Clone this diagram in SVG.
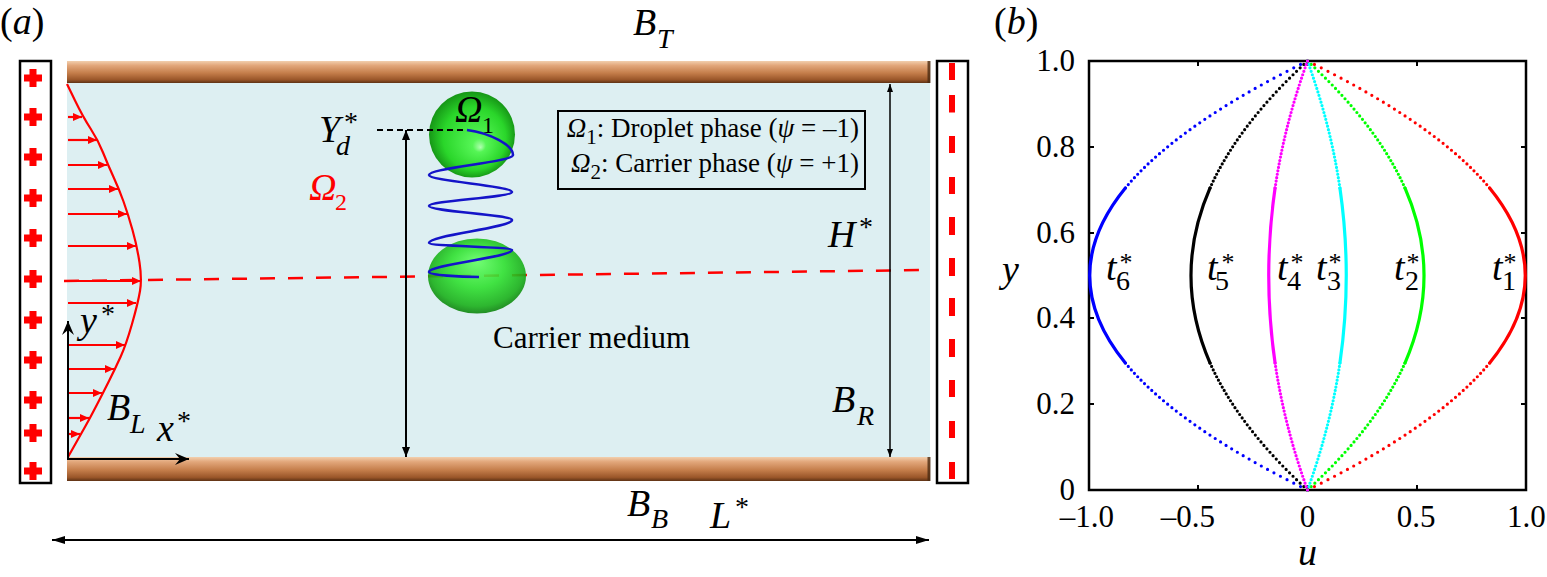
<svg xmlns="http://www.w3.org/2000/svg" width="1547" height="577" viewBox="0 0 1547 577" font-family="Liberation Serif, Times New Roman, serif">
<defs>
<style>
.it{font-style:italic;font-size:38px}
.sub{font-style:italic;font-size:28px}
.star{font-size:28px}
.tstar{font-size:26px}
.tick{font-size:31px}
.leg{font-size:27px}
.red{fill:#f00}
</style>
<linearGradient id="wall" x1="0" y1="0" x2="0" y2="1">
<stop offset="0" stop-color="#f2cfae"/>
<stop offset="0.2" stop-color="#e2a77b"/>
<stop offset="0.55" stop-color="#c47d4a"/>
<stop offset="0.85" stop-color="#9a5629"/>
<stop offset="1" stop-color="#5e3215"/>
</linearGradient>
<radialGradient id="gU" cx="0.5" cy="0.5" r="0.52" fx="0.6" fy="0.65">
<stop offset="0" stop-color="#b0ffb0"/>
<stop offset="0.15" stop-color="#55f555"/>
<stop offset="0.7" stop-color="#2ad62a"/>
<stop offset="1" stop-color="#148f14"/>
</radialGradient>
<radialGradient id="gL" cx="0.5" cy="0.45" r="0.56" fx="0.5" fy="0.3">
<stop offset="0" stop-color="#66ff66"/>
<stop offset="0.5" stop-color="#2fe02f"/>
<stop offset="0.85" stop-color="#1ab01a"/>
<stop offset="1" stop-color="#0d7f0d"/>
</radialGradient>
<marker id="ar" markerWidth="10" markerHeight="9" refX="9" refY="4.5" orient="auto" markerUnits="userSpaceOnUse"><path d="M0,0.5L9,4.5L0,8.5Z" fill="#f00"/></marker>
<marker id="ak" markerWidth="11" markerHeight="9" refX="10" refY="4.5" orient="auto-start-reverse" markerUnits="userSpaceOnUse"><path d="M0,0.5L10,4.5L0,8.5Z"/></marker>
<marker id="ah" markerWidth="9" markerHeight="7" refX="8" refY="3.5" orient="auto-start-reverse" markerUnits="userSpaceOnUse"><path d="M0,0.5L8,3.5L0,6.5Z"/></marker>
<marker id="al" markerWidth="14" markerHeight="9" refX="13" refY="4.5" orient="auto-start-reverse" markerUnits="userSpaceOnUse"><path d="M0,0.5L13,4.5L0,8.5Z"/></marker>
<marker id="as" markerWidth="15" markerHeight="13" refX="14" refY="6.5" orient="auto" markerUnits="userSpaceOnUse"><path d="M0,0.5L14,6.5L0,12.5L5,6.5Z"/></marker>
<path id="plus" d="M-9,-3.5h5.5v-5.5h7v5.5h5.5v7h-5.5v5.5h-7v-5.5h-5.5z" fill="#f00"/>
<path id="c1" d="M0,61h0M6.94,64.43h0M13.76,67.86h0M20.47,71.3h0M27.07,74.73h0M33.56,78.16h0M39.94,81.59h0M46.2,85.02h0M52.36,88.46h0M58.4,91.89h0M64.33,95.32h0M70.14,98.75h0M75.85,102.18h0M81.44,105.62h0M86.92,109.05h0M92.29,112.48h0M97.55,115.91h0M102.7,119.34h0M107.73,122.78h0M112.65,126.21h0M117.47,129.64h0M122.16,133.07h0M126.75,136.5h0M131.23,139.94h0M135.59,143.37h0M139.84,146.8h0M143.98,150.23h0M148.01,153.66h0M151.92,157.1h0M155.73,160.53h0M159.42,163.96h0M163,167.39h0M166.47,170.82h0M169.82,174.26h0M173.07,177.69h0M176.2,181.12h0M179.22,184.55h0M182.13,187.98h0"/>
<path id="c2" d="M0,61h0M3.71,64.43h0M7.36,67.86h0M10.95,71.3h0M14.48,74.73h0M17.95,78.16h0M21.37,81.59h0M24.72,85.02h0M28.01,88.46h0M31.24,91.89h0M34.42,95.32h0M37.52,98.75h0M40.58,102.18h0M43.57,105.62h0M46.5,109.05h0M49.38,112.48h0M52.19,115.91h0M54.94,119.34h0M57.64,122.78h0M60.27,126.21h0M62.85,129.64h0M65.36,133.07h0M67.81,136.5h0M70.21,139.94h0M72.54,143.37h0M74.81,146.8h0M77.03,150.23h0M79.19,153.66h0M81.28,157.1h0M83.31,160.53h0M85.29,163.96h0M87.21,167.39h0M89.06,170.82h0M90.85,174.26h0M92.59,177.69h0M94.27,181.12h0M95.88,184.55h0M97.44,187.98h0"/>
<path id="c3" d="M0,61h0M1.24,64.43h0M2.45,67.86h0M3.64,71.3h0M4.82,74.73h0M5.97,78.16h0M7.11,81.59h0M8.22,85.02h0M9.32,88.46h0M10.4,91.89h0M11.45,95.32h0M12.48,98.75h0M13.5,102.18h0M14.5,105.62h0M15.47,109.05h0M16.43,112.48h0M17.36,115.91h0M18.28,119.34h0M19.18,122.78h0M20.05,126.21h0M20.91,129.64h0M21.74,133.07h0M22.56,136.5h0M23.36,139.94h0M24.14,143.37h0M24.89,146.8h0M25.63,150.23h0M26.35,153.66h0M27.04,157.1h0M27.72,160.53h0M28.38,163.96h0M29.01,167.39h0M29.63,170.82h0M30.23,174.26h0M30.81,177.69h0M31.36,181.12h0M31.9,184.55h0M32.42,187.98h0"/>
<path id="a1" d="M182.13,187.98Q253.46,275.5 182.13,363.02"/>
<path id="a2" d="M97.44,187.98Q135.6,275.5 97.44,363.02"/>
<path id="a3" d="M32.42,187.98Q45.11,275.5 32.42,363.02"/>
</defs>

<g id="panel-a">
<g id="inlet-box">
<rect x="20" y="61" width="31" height="422" fill="#fff" stroke="#000" stroke-width="2.5"/>
<use href="#plus" x="33" y="78"/><use href="#plus" x="33" y="117"/><use href="#plus" x="33" y="157"/><use href="#plus" x="33" y="198"/><use href="#plus" x="33" y="238"/><use href="#plus" x="33" y="279"/><use href="#plus" x="33" y="320"/><use href="#plus" x="33" y="360"/><use href="#plus" x="33" y="400"/><use href="#plus" x="33" y="433"/><use href="#plus" x="33" y="471"/>
</g>
<g id="outlet-box">
<rect x="937" y="61" width="31" height="422" fill="#fff" stroke="#000" stroke-width="2.5"/>
<path d="M952,63v17M952,95v17.5M952,136v17M952,177v17M952,217v18M952,258v18M952,298v18M952,339v18M952,380v17M952,421v17M952,462v17" stroke="#f00" stroke-width="6"/>
</g>
<g id="channel">
<rect x="67" y="83" width="863" height="374" fill="#ddeff2"/>
<rect x="67" y="61" width="863" height="22" fill="url(#wall)"/>
<rect x="927.5" y="61" width="3" height="22" fill="#4a2a12" opacity="0.8"/>
<rect x="67" y="457" width="863" height="24" fill="url(#wall)"/>
<rect x="927.5" y="457" width="3" height="24" fill="#4a2a12" opacity="0.8"/>
</g>
<g id="centerline">
<line x1="64" y1="281" x2="927" y2="270" stroke="#f00" stroke-width="2.5" stroke-dasharray="15 13"/>
</g>
<g id="profile" stroke="#f00" stroke-width="2.2" fill="none">
<path d="M67,84 L75,100.5 Q83,117 90.5,128.5 Q98,140 103,152.5 Q108,165 113.5,177 Q119,189 123.5,201.5 Q128,214 132.5,230 Q137,246 139.5,262.5 Q142,279 140,291 Q138,303 132,324 Q126,345 120.5,357 Q115,369 109,381 Q103,393 96.5,405.5 Q90,418 85.5,426 Q81,434 74.5,445.5 L68,457"/>
<g marker-end="url(#ar)">
<line x1="68" y1="117" x2="82" y2="117"/>
<line x1="68" y1="140" x2="97" y2="140"/>
<line x1="68" y1="165" x2="107" y2="165"/>
<line x1="68" y1="189" x2="118" y2="189"/>
<line x1="68" y1="214" x2="127" y2="214"/>
<line x1="68" y1="246" x2="136" y2="246"/>
<line x1="64" y1="281" x2="141" y2="281"/>
<line x1="68" y1="303" x2="136" y2="303"/>
<line x1="68" y1="345" x2="125" y2="345"/>
<line x1="68" y1="369" x2="114" y2="369"/>
<line x1="68" y1="393" x2="102" y2="393"/>
<line x1="68" y1="418" x2="89" y2="418"/>
<line x1="68" y1="434" x2="80" y2="434"/>
</g>
</g>
<g id="axes" stroke="#000" stroke-width="2" fill="none">
<line x1="68" y1="458" x2="68" y2="321" marker-end="url(#as)"/>
<line x1="67" y1="459" x2="189" y2="459" marker-end="url(#as)"/>
</g>
<g id="droplets">
<circle cx="472" cy="134.5" r="43" fill="url(#gU)"/>
<ellipse cx="477" cy="276" rx="49" ry="37.5" fill="url(#gL)" opacity="0.9"/>
<path d="M467,130 C490,133 513,145 513,155 C513,162 429,168 429,175 C429,181 512,186 512,192 C512,197 429,201 429,206 C429,211 512,215 512,220 C512,228 429,235 429,243 C429,246 512,247 512,250 C512,257 429,265 429,272 C429,275 460,277 479,277" fill="none" stroke="#1414c8" stroke-width="2.6"/>
</g>
<g id="dimensions" stroke="#000" fill="none">
<line x1="377" y1="130" x2="467" y2="130" stroke-width="1.8" stroke-dasharray="6 4"/>
<line x1="406" y1="130" x2="406" y2="457" stroke-width="2" marker-start="url(#ak)" marker-end="url(#ak)"/>
<line x1="890" y1="84" x2="890" y2="457" stroke-width="1.5" marker-start="url(#ah)" marker-end="url(#ah)"/>
<line x1="52" y1="540" x2="929" y2="540" stroke-width="2" marker-start="url(#al)" marker-end="url(#al)"/>
</g>
<g id="legend">
<rect x="558" y="111" width="307" height="78" fill="none" stroke="#000" stroke-width="2"/>
<text class="leg" x="859" y="137" text-anchor="end"><tspan font-style="italic">Ω</tspan><tspan font-size="21" dy="7">1</tspan><tspan dy="-7">: Droplet phase (</tspan><tspan font-style="italic">ψ</tspan> = –1)</text>
<text class="leg" x="859" y="172" text-anchor="end"><tspan font-style="italic">Ω</tspan><tspan font-size="21" dy="7">2</tspan><tspan dy="-7">: Carrier phase (</tspan><tspan font-style="italic">ψ</tspan> = +1)</text>
</g>
<g id="labels-a">
<text x="0" y="34" font-size="38">(<tspan font-style="italic">a</tspan>)</text>
<text class="it" x="633" y="35">B</text><text class="sub" x="657" y="48">T</text>
<text class="it" x="319" y="142">Y</text><text class="sub" x="336" y="155">d</text><text class="star" x="344" y="131">*</text>
<text class="it" x="455" y="122" font-size="30">Ω</text><text x="482" y="133" font-size="24">1</text>
<text class="it red" x="309" y="200" font-size="32">Ω</text><text class="red" x="335" y="210" font-size="24">2</text>
<text x="493" y="348" font-size="31">Carrier medium</text>
<text class="it" x="828" y="247">H</text><text class="star" x="859" y="236">*</text>
<text class="it" x="832" y="412">B</text><text class="sub" x="857" y="425">R</text>
<text class="it" x="80" y="333">y</text><text class="star" x="101" y="323">*</text>
<text class="it" x="107" y="420">B</text><text class="sub" x="130" y="433">L</text>
<text class="it" x="157" y="441">x</text><text class="star" x="177" y="430">*</text>
<text class="it" x="627" y="516">B</text><text class="sub" x="651" y="528">B</text>
<text class="it" x="710" y="528">L</text><text class="star" x="735" y="516">*</text>
</g>
</g>

<g id="panel-b">
<rect x="1089" y="61" width="437" height="429" fill="none" stroke="#000" stroke-width="2.5"/>
<path d="M1198,490v-5M1307.5,490v-5M1417,490v-5M1198,61v5M1307.5,61v5M1417,61v5M1089,147h5M1089,233h5M1089,318h5M1089,404h5M1526,147h-5M1526,233h-5M1526,318h-5M1526,404h-5" stroke="#000" stroke-width="2"/>
<g id="curves" fill="none" stroke-width="3.2" stroke-linecap="round">
<g id="curve-t6" stroke="#0000ff"><use href="#c1" transform="matrix(-1,0,0,1,1307.5,0)"/><use href="#c1" transform="matrix(-1,0,0,-1,1307.5,551)"/><use href="#a1" transform="matrix(-1,0,0,1,1307.5,0)"/></g>
<g id="curve-t5" stroke="#000000"><use href="#c2" transform="matrix(-1,0,0,1,1307.5,0)"/><use href="#c2" transform="matrix(-1,0,0,-1,1307.5,551)"/><use href="#a2" transform="matrix(-1,0,0,1,1307.5,0)"/></g>
<g id="curve-t2" stroke="#00ff00"><use href="#c2" transform="translate(1307.5,0)"/><use href="#c2" transform="matrix(1,0,0,-1,1307.5,551)"/><use href="#a2" transform="translate(1307.5,0)"/></g>
<g id="curve-t1" stroke="#ff0000"><use href="#c1" transform="translate(1307.5,0)"/><use href="#c1" transform="matrix(1,0,0,-1,1307.5,551)"/><use href="#a1" transform="translate(1307.5,0)"/></g>
<g id="curve-t3" stroke="#00ffff"><use href="#c3" transform="translate(1307.5,0)"/><use href="#c3" transform="matrix(1,0,0,-1,1307.5,551)"/><use href="#a3" transform="translate(1307.5,0)"/></g>
<g id="curve-t4" stroke="#ff00ff"><use href="#c3" transform="matrix(-1,0,0,1,1307.5,0)"/><use href="#c3" transform="matrix(-1,0,0,-1,1307.5,551)"/><use href="#a3" transform="matrix(-1,0,0,1,1307.5,0)"/></g>
</g>
<g id="ticklabels">
<text class="tick" x="1075" y="71" text-anchor="end">1.0</text>
<text class="tick" x="1075" y="157" text-anchor="end">0.8</text>
<text class="tick" x="1075" y="243" text-anchor="end">0.6</text>
<text class="tick" x="1075" y="328" text-anchor="end">0.4</text>
<text class="tick" x="1075" y="414" text-anchor="end">0.2</text>
<text class="tick" x="1075" y="500" text-anchor="end">0</text>
<text class="tick" x="1114" y="527" text-anchor="end">–1.0</text>
<text class="tick" x="1215" y="527" text-anchor="end">–0.5</text>
<text class="tick" x="1307.5" y="527" text-anchor="middle">0</text>
<text class="tick" x="1416" y="527" text-anchor="middle">0.5</text>
<text class="tick" x="1507" y="527">1.0</text>
</g>
<g id="labels-b">
<text x="994" y="34" font-size="38">(<tspan font-style="italic">b</tspan>)</text>
<text class="it" x="1307.5" y="565" text-anchor="middle">u</text>
<text class="it" x="1002" y="282">y</text>
<text class="it" x="1106" y="280">t</text><text x="1116" y="290" font-size="28">6</text><text class="tstar" x="1119.5" y="271">*</text>
<text class="it" x="1207" y="280">t</text><text x="1215" y="290" font-size="28">5</text><text class="tstar" x="1221.5" y="271">*</text>
<text class="it" x="1277" y="280">t</text><text x="1287" y="290" font-size="28">4</text><text class="tstar" x="1290.5" y="271">*</text>
<text class="it" x="1316" y="280">t</text><text x="1327" y="290" font-size="28">3</text><text class="tstar" x="1328.5" y="271">*</text>
<text class="it" x="1394" y="280">t</text><text x="1405" y="290" font-size="28">2</text><text class="tstar" x="1406.5" y="271">*</text>
<text class="it" x="1492" y="280">t</text><text x="1502" y="290" font-size="28">1</text><text class="tstar" x="1503.5" y="271">*</text>
</g>
</g>
</svg>
